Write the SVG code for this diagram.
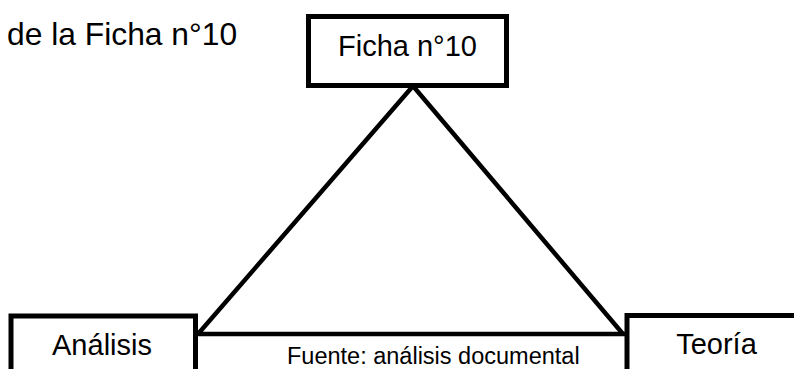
<svg xmlns="http://www.w3.org/2000/svg" width="794" height="369" viewBox="0 0 794 369">
<style>
.box{fill:#fff;stroke:#000;stroke-width:5}
.ln{fill:none;stroke:#000;stroke-width:4.5;stroke-linejoin:miter}
text{font-family:"Liberation Sans",Arial,sans-serif;fill:#000}
</style>
<rect width="794" height="369" fill="#fff"/>
<text x="7" y="45" font-size="31.8">de la Ficha n°10</text>
<g id="connectors">
<path class="ln" d="M413,86 L198,334 M413,86 L623,334 M196,334 L625,334"/>
</g>
<g id="ficha">
<rect class="box" x="308.5" y="16.5" width="198" height="69"/>
<text x="407.5" y="56" font-size="29" text-anchor="middle">Ficha n°10</text>
</g>
<g id="analisis">
<rect class="box" x="11" y="316" width="184.5" height="80"/>
<text x="102" y="355" font-size="29" text-anchor="middle">Análisis</text>
</g>
<g id="teoria">
<rect class="box" x="627" y="315.5" width="200" height="80"/>
<text x="716.5" y="354" font-size="29" text-anchor="middle">Teoría</text>
</g>
<text x="287" y="364" font-size="23.5">Fuente: análisis documental</text>
</svg>
